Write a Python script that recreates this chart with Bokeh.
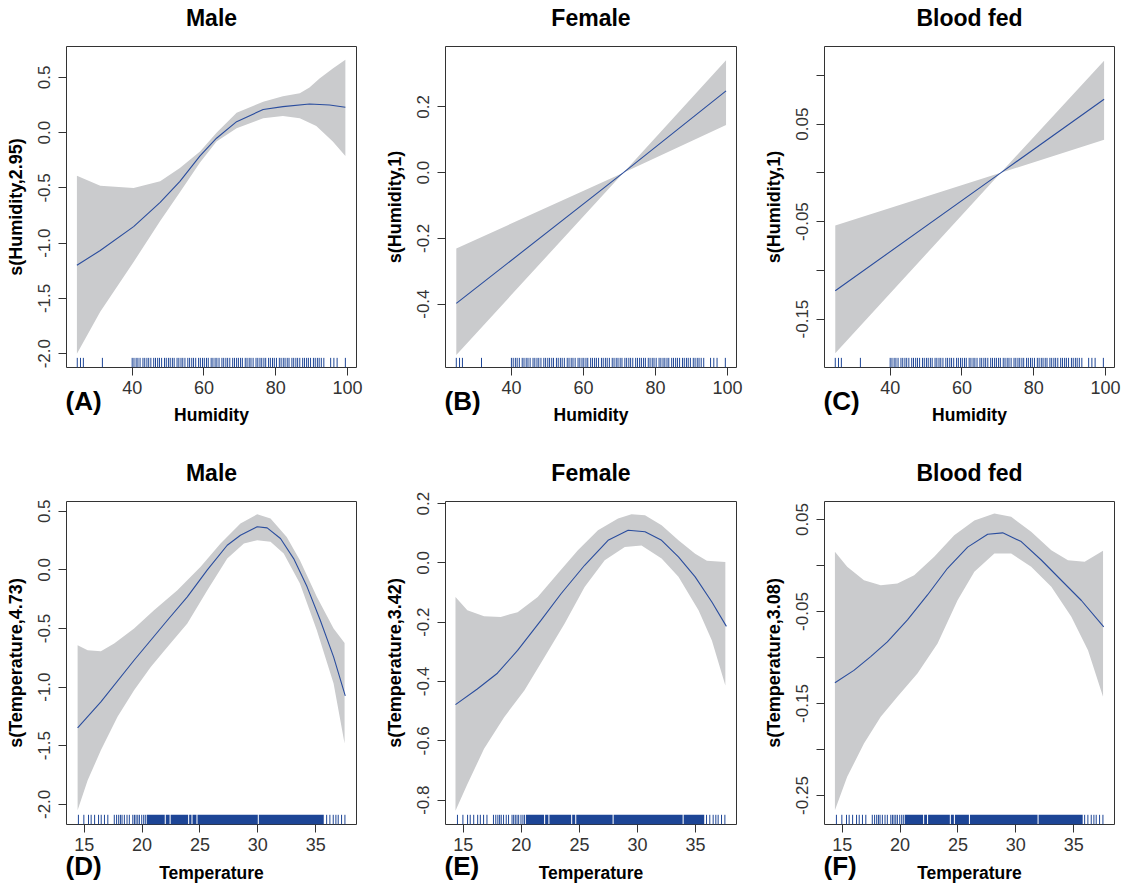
from bokeh.plotting import figure
from bokeh.models import Range1d, FixedTicker, NumeralTickFormatter, CustomJSTickFormatter
from bokeh.layouts import gridplot
from bokeh.core.properties import value
from bokeh.embed import file_html
from bokeh.resources import INLINE

# ---------------- data ----------------
hum_rug = [24.7, 25.6, 26.4, 31.7,
           40.0, 40.5, 41.1, 41.6, 42.2, 43.0, 43.5, 44.1, 44.6, 45.2, 46.0, 46.5, 47.1, 47.6,
           48.2, 49.0, 49.5, 50.1, 50.6, 51.2, 51.7, 52.5, 53.0, 53.6, 54.1, 54.7, 55.5, 56.0,
           56.6, 57.1, 57.7, 58.5, 59.0, 59.6, 60.1, 60.7, 61.2, 62.0, 62.5, 63.1, 63.6, 64.2,
           65.0, 65.5, 66.1, 66.6, 67.2, 68.0, 68.5, 69.1, 69.6, 70.2, 70.7, 71.5, 72.0, 72.6,
           73.1, 73.7, 74.5, 75.0, 75.6, 76.1, 76.7, 77.2, 78.0, 78.5, 79.1, 79.6, 80.2, 81.0,
           81.5, 82.1, 82.6, 83.2, 83.7, 84.5, 85.0, 85.6, 86.1, 86.7, 87.5, 88.0, 88.6, 89.1,
           89.7, 90.5, 91.0, 91.6, 92.1, 92.7, 93.4, 95.3, 96.2, 97.1, 99.4]

temp_rug = [14.5, 14.97, 15.37, 15.6, 15.9, 16.24, 16.47, 16.75, 17.04, 17.6, 17.8, 17.98,
            18.13, 18.27, 18.47, 18.7, 18.9, 19.2, 19.34, 19.48, 19.63, 19.77, 19.97, 20.14,
            20.28, 35.95, 36.23, 36.52, 36.75, 36.95, 37.24, 37.53]
# dense (solid) stretches of the temperature rug: [start, end]
d_rug_left = [20.40, 22.05, 22.47, 24.07, 24.36, 24.79, 30.09]
d_rug_right = [21.96, 22.38, 23.98, 24.27, 24.70, 30.00, 35.70]
e_rug_left = [20.40, 22.05, 22.42, 24.38, 24.73, 27.95, 33.98]
e_rug_right = [21.96, 22.33, 24.29, 24.64, 27.86, 33.89, 35.75]
f_rug_left = [20.40, 22.08, 22.42, 24.39, 24.74, 26.04, 31.97]
f_rug_right = [21.99, 22.33, 24.30, 24.65, 25.95, 31.88, 35.78]

# (A) Male ~ Humidity
a_fit_x = [24.6, 31.1, 40.4, 47.8, 53.3, 58.9, 63.5, 69.1, 76.5, 82.0, 89.4, 95.0, 99.4]
a_fit_y = [-1.20, -1.066, -0.85, -0.63, -0.44, -0.21, -0.05, 0.10, 0.21, 0.236, 0.26, 0.25, 0.23]
a_up_x = [24.6, 31.1, 40.4, 47.8, 53.3, 58.9, 63.5, 69.1, 76.5, 82.0, 86.7, 89.4, 92.2, 95.9, 99.4]
a_up_y = [-0.39, -0.48, -0.50, -0.44, -0.32, -0.17, 0.0, 0.18, 0.28, 0.33, 0.357, 0.41, 0.49, 0.58, 0.66]
a_lo_x = [24.6, 31.1, 40.4, 47.8, 53.3, 58.9, 63.5, 69.1, 76.5, 82.0, 86.7, 91.3, 95.9, 99.4]
a_lo_y = [-2.0, -1.62, -1.17, -0.80, -0.54, -0.27, -0.08, 0.04, 0.13, 0.15, 0.13, 0.06, -0.08, -0.21]

# (B) Female ~ Humidity
b_x = [24.7, 71.1, 99.6]
b_fit = [-0.398, 0.0, 0.249]
b_up = [-0.231, 0.0, 0.342]
b_lo = [-0.555, 0.0, 0.145]

# (C) Blood fed ~ Humidity
c_x = [24.7, 70.8, 99.6]
c_fit = [-0.121, 0.0, 0.0755]
c_up = [-0.054, 0.0, 0.115]
c_lo = [-0.185, 0.0, 0.034]

# (D) Male ~ Temperature
d_fit_x = [14.43, 16.44, 19.31, 22.19, 23.91, 25.64, 27.36, 28.5, 29.95, 30.81, 31.96, 33.1, 34.26, 35.4, 36.55, 37.56]
d_fit_y = [-1.348, -1.126, -0.771, -0.43, -0.23, 0.0, 0.21, 0.295, 0.367, 0.358, 0.267, 0.096, -0.145, -0.43, -0.742, -1.075]
d_up_x = [14.43, 15.3, 16.44, 17.59, 19.31, 21.03, 23.05, 25.06, 26.78, 28.5, 29.95, 31.1, 32.5, 33.64, 35.1, 36.55, 37.5]
d_up_y = [-0.643, -0.686, -0.694, -0.629, -0.50, -0.345, -0.174, 0.026, 0.224, 0.395, 0.474, 0.438, 0.28, 0.082, -0.23, -0.50, -0.623]
d_lo_x = [14.43, 15.3, 16.44, 17.88, 19.31, 20.75, 22.19, 23.91, 25.64, 27.36, 28.8, 29.95, 31.1, 32.24, 33.64, 35.1, 36.55, 37.5]
d_lo_y = [-2.05, -1.795, -1.539, -1.254, -1.027, -0.828, -0.657, -0.458, -0.174, 0.096, 0.224, 0.253, 0.239, 0.139, -0.117, -0.515, -0.97, -1.482]

# (E) Female ~ Temperature
e_fit_x = [14.33, 16.21, 17.94, 19.68, 21.69, 23.42, 25.45, 27.47, 29.2, 30.65, 32.08, 33.53, 34.97, 36.41, 37.66]
e_fit_y = [-0.478, -0.425, -0.372, -0.295, -0.194, -0.104, -0.008, 0.076, 0.110, 0.105, 0.076, 0.020, -0.047, -0.132, -0.214]
e_up_x = [14.33, 15.35, 16.79, 18.23, 19.68, 21.41, 23.14, 24.87, 26.6, 28.33, 29.49, 30.65, 32.08, 33.53, 34.97, 35.98, 37.57]
e_up_y = [-0.115, -0.16, -0.18, -0.182, -0.166, -0.115, -0.036, 0.043, 0.110, 0.150, 0.164, 0.161, 0.127, 0.076, 0.031, 0.007, 0.003]
e_lo_x = [14.33, 15.35, 16.79, 18.52, 20.26, 21.99, 23.72, 25.45, 27.18, 28.91, 30.35, 32.08, 33.53, 35.26, 36.41, 37.57]
e_lo_y = [-0.836, -0.746, -0.627, -0.52, -0.43, -0.318, -0.205, -0.081, 0.009, 0.054, 0.059, 0.015, -0.047, -0.16, -0.262, -0.413]

# (F) Blood fed ~ Temperature
f_fit_x = [14.37, 16.01, 17.46, 18.9, 20.64, 22.37, 24.1, 25.84, 27.57, 28.87, 30.47, 32.2, 33.93, 35.67, 37.6]
f_fit_y = [-0.1275, -0.114, -0.099, -0.083, -0.059, -0.032, -0.003, 0.020, 0.034, 0.0355, 0.026, 0.006, -0.016, -0.038, -0.0666]
f_up_x = [14.37, 15.43, 16.88, 18.33, 19.77, 21.22, 22.95, 24.68, 26.42, 28.15, 29.6, 31.33, 33.07, 34.51, 35.95, 37.54]
f_up_y = [0.0149, -0.0014, -0.016, -0.0214, -0.0196, -0.0105, 0.0095, 0.0329, 0.049, 0.0565, 0.053, 0.0366, 0.0167, 0.0058, 0.004, 0.016]
f_lo_x = [14.37, 15.43, 16.88, 18.33, 19.77, 21.5, 23.24, 24.97, 26.42, 28.15, 29.6, 31.33, 33.07, 34.8, 36.24, 37.54]
f_lo_y = [-0.266, -0.2297, -0.1935, -0.1645, -0.1427, -0.1174, -0.0848, -0.0377, -0.0068, 0.013, 0.013, -0.0014, -0.0232, -0.0558, -0.092, -0.1427]

hum_ticks = [40, 60, 80, 100]
temp_ticks = [15, 20, 25, 30, 35]
a_yticks = [-2.0, -1.5, -1.0, -0.5, 0.0, 0.5]
b_yticks = [-0.4, -0.2, 0.0, 0.2]
c_yticks = [-0.15, -0.10, -0.05, 0.0, 0.05, 0.10]
d_yticks = [-2.0, -1.5, -1.0, -0.5, 0.0, 0.5]
e_yticks = [-0.8, -0.6, -0.4, -0.2, 0.0, 0.2]
f_yticks = [-0.25, -0.20, -0.15, -0.10, -0.05, 0.0, 0.05]

# ---------------- styling ----------------
FONT = "Liberation Sans"
GRAY = "#cacbcd"
BLUE = "#2a4d9e"
RUG = "#1d4596"
DARK = "#333333"

HUM_XLIM = (21.7, 102.5)
TEMP_XLIM = (13.47, 38.53)

ODD_JS = """
const k = Math.round(tick * 100);
return (Math.abs(k) % 10 === 5) ? tick.toFixed(2) : "";
"""


def panel(title, tag, xlabel, ylabel, xlim, ylim, xticks, yticks, yfmt,
          fit_x, fit_y, up_x, up_y, lo_x, lo_y, rug_x, rug_l, rug_r,
          w, h, bl, br, bt, bb, tag_dy, xl_so):
    p = figure(width=w, height=h, x_range=Range1d(*xlim), y_range=Range1d(*ylim),
               output_backend="svg", toolbar_location=None,
               min_border_left=bl, min_border_right=br,
               min_border_top=bt, min_border_bottom=bb,
               x_axis_label=xlabel, y_axis_label=ylabel)
    p.grid.visible = False
    p.outline_line_color = DARK
    p.outline_line_width = 1
    p.outline_line_alpha = 1
    p.title.text = ""
    p.title.standoff = 0

    for ax in (p.xaxis[0], p.yaxis[0]):
        ax.axis_line_color = None
        ax.major_tick_line_color = DARK
        ax.major_tick_out = 8
        ax.major_tick_in = 0
        ax.minor_tick_line_color = None
        ax.major_label_text_font = FONT
        ax.major_label_text_color = DARK
        ax.axis_label_text_font = FONT
        ax.axis_label_text_font_style = "bold"
        ax.axis_label_text_color = "black"
    p.xaxis.major_label_text_font_size = "18px"
    p.yaxis.major_label_text_font_size = "17px"
    p.xaxis.axis_label_text_font_size = "17.5px"
    p.yaxis.axis_label_text_font_size = "18px"
    p.xaxis.ticker = FixedTicker(ticks=xticks)
    p.yaxis.ticker = FixedTicker(ticks=yticks)
    p.yaxis.formatter = yfmt
    p.yaxis.major_label_orientation = "vertical"
    p.xaxis.major_label_standoff = 5
    p.xaxis.axis_label_standoff = xl_so
    p.yaxis.major_label_standoff = 8
    p.yaxis.axis_label_standoff = 10

    p.patch(list(up_x) + list(lo_x)[::-1], list(up_y) + list(lo_y)[::-1],
            fill_color=GRAY, line_color=None)
    p.line(fit_x, fit_y, line_color=BLUE, line_width=1.1)

    y0 = ylim[0]
    y1 = ylim[0] + 0.03 * (ylim[1] - ylim[0])
    p.segment(x0=rug_x, y0=[y0] * len(rug_x), x1=rug_x, y1=[y1] * len(rug_x),
              line_color=RUG, line_width=1)
    if rug_l:
        p.quad(left=rug_l, right=rug_r, bottom=[y0] * len(rug_l), top=[y1] * len(rug_l),
               fill_color=RUG, line_color=None)

    # panel title, centred above the frame
    p.text(x=[(xlim[0] + xlim[1]) / 2], y=[ylim[1]], text=[title], y_offset=-29,
           text_font=value(FONT), text_font_size=value("23px"), text_font_style="bold",
           text_align="center", text_baseline="alphabetic", text_color="black", level="overlay")
    # panel tag, e.g. "(A)", below the lower-left corner of the frame
    p.text(x=[xlim[0]], y=[ylim[0]], text=[tag], x_offset=-1, y_offset=tag_dy,
           text_font=value(FONT), text_font_size=value("26px"), text_font_style="bold",
           text_align="left", text_baseline="middle", text_color="black", level="overlay")
    return p


pa = panel("Male", "(A)", "Humidity", "s(Humidity,2.95)", HUM_XLIM, (-2.125, 0.78),
           hum_ticks, a_yticks, NumeralTickFormatter(format="0.0"),
           a_fit_x, a_fit_y, a_up_x, a_up_y, a_lo_x, a_lo_y,
           hum_rug, [], [], 377, 427, 66, 21, 46, 58, 33, 8)
pb = panel("Female", "(B)", "Humidity", "s(Humidity,1)", HUM_XLIM, (-0.593, 0.384),
           hum_ticks, b_yticks, NumeralTickFormatter(format="0.0"),
           b_x, b_fit, b_x, b_up, b_x, b_lo, hum_rug, [], [], 377, 427, 68, 18, 46, 58, 33, 8)
pc = panel("Blood fed", "(C)", "Humidity", "s(Humidity,1)", HUM_XLIM, (-0.1997, 0.1296),
           hum_ticks, c_yticks, CustomJSTickFormatter(code=ODD_JS),
           c_x, c_fit, c_x, c_up, c_x, c_lo, hum_rug, [], [], 376, 427, 70, 16, 46, 58, 33, 8)
pd = panel("Male", "(D)", "Temperature", "s(Temperature,4.73)", TEMP_XLIM, (-2.172, 0.583),
           temp_ticks, d_yticks, NumeralTickFormatter(format="0.0"),
           d_fit_x, d_fit_y, d_up_x, d_up_y, d_lo_x, d_lo_y,
           temp_rug, d_rug_left, d_rug_right, 377, 458, 66, 21, 74, 61, 41, 9)
pe = panel("Female", "(E)", "Temperature", "s(Temperature,3.42)", TEMP_XLIM, (-0.882, 0.207),
           temp_ticks, e_yticks, NumeralTickFormatter(format="0.0"),
           e_fit_x, e_fit_y, e_up_x, e_up_y, e_lo_x, e_lo_y,
           temp_rug, e_rug_left, e_rug_right, 377, 458, 68, 18, 74, 61, 41, 9)
pf = panel("Blood fed", "(F)", "Temperature", "s(Temperature,3.08)", TEMP_XLIM, (-0.2815, 0.0696),
           temp_ticks, f_yticks, CustomJSTickFormatter(code=ODD_JS),
           f_fit_x, f_fit_y, f_up_x, f_up_y, f_lo_x, f_lo_y,
           temp_rug, f_rug_left, f_rug_right, 376, 458, 70, 16, 74, 61, 41, 9)

grid = gridplot([[pa, pb, pc], [pd, pe, pf]], toolbar_location=None)

open("out.html", "w").write(file_html(grid, INLINE))
